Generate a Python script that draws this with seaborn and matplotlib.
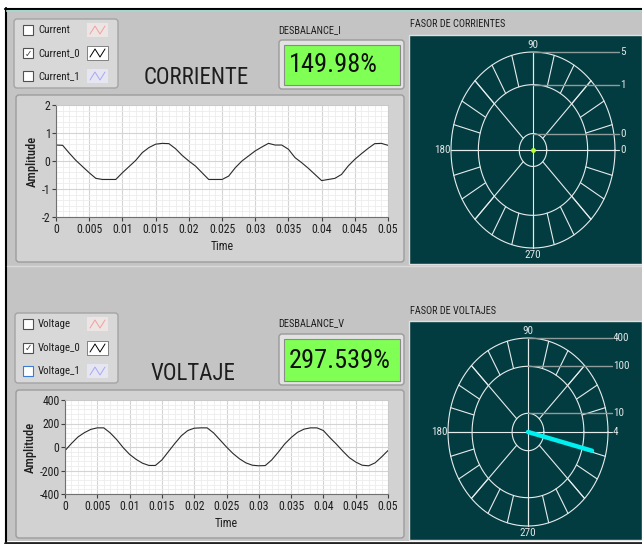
import numpy as np
import matplotlib
matplotlib.use("Agg")
import matplotlib.pyplot as plt
from matplotlib.patches import Rectangle, FancyBboxPatch
from matplotlib.ticker import MultipleLocator
import seaborn as sns

# waveform samples (one per ms)
time_s = [k / 1000 for k in range(51)]
current_0 = [0.57, 0.56, 0.28, 0.02, -0.2, -0.42, -0.62, -0.66, -0.66, -0.66,
             -0.42, -0.2, 0.02, 0.3, 0.48, 0.6, 0.63, 0.62, 0.44, 0.2,
             0.0, -0.18, -0.42, -0.66, -0.66, -0.66, -0.54, -0.24, 0.0, 0.18,
             0.36, 0.5, 0.63, 0.57, 0.57, 0.42, 0.12, -0.06, -0.26, -0.48,
             -0.7, -0.66, -0.62, -0.48, -0.18, 0.06, 0.26, 0.45, 0.62, 0.63, 0.56]
voltage_0 = [-31, 30, 85, 122, 150, 163, 163, 120, 63, -5,
             -63, -105, -138, -157, -157, -110, -40, 30, 95, 140,
             160, 163, 163, 120, 60, 0, -55, -100, -135, -155,
             -160, -158, -110, -45, 25, 80, 125, 152, 163, 163,
             140, 80, 25, -35, -90, -128, -155, -160, -135, -85, -30]

x_ticks = [0, 0.005, 0.01, 0.015, 0.02, 0.025, 0.03, 0.035, 0.04, 0.045, 0.05]
x_tick_labels = ["0", "0.005", "0.01", "0.015", "0.02", "0.025", "0.03",
                 "0.035", "0.04", "0.045", "0.05"]
current_yticks = [-2, -1, 0, 1, 2]
voltage_yticks = [-400, -200, 0, 200, 400]

current_legend = ["Current", "Current_0", "Current_1"]
voltage_legend = ["Voltage", "Voltage_0", "Voltage_1"]
legend_checked = [False, True, False]
legend_colors = ["#F2A0A0", "#000000", "#A8A8F2"]
legend_bg = ["#EDE4E4", "#FFFFFF", "#E6E6F2"]

desbalance_i = "149.98%"
desbalance_v = "297.539%"

# phasor graphs: log radial scale, rings = centre, inner, middle, outer
current_rings = [0.04, 0.09, 1, 5]
current_ring_labels = ["0", "0", "1", "5"]
voltage_rings = [4, 10, 100, 400]
voltage_ring_labels = ["4", "10", "100", "400"]
voltage_phasor = (178, -14)   # magnitude, angle (deg)
current_phasor = (0.04, 0)

W, H = 642, 544
BG = "#C4C4C4"
PANEL = "#D2D2D2"
DARK = "#033C40"
TXT = "#1E1E1E"

sns.set_theme(style="white")
plt.rcParams["font.family"] = ["Roboto Condensed", "Liberation Sans Narrow", "DejaVu Sans"]
plt.rcParams["font.stretch"] = "condensed"

fig = plt.figure(figsize=(W / 100, H / 100), dpi=100)
fig.patch.set_facecolor("white")


def fig_rect(x0, y0, x1, y1):
    return [x0 / W, 1 - y1 / H, (x1 - x0) / W, (y1 - y0) / H]


# background axes in pixel coordinates
bg = fig.add_axes([0, 0, 1, 1], zorder=0)
bg.set_xlim(0, W)
bg.set_ylim(H, 0)
bg.axis("off")

bg.add_patch(Rectangle((6, 9), W - 6, 532, fc=BG, ec="none"))
bg.plot([5, W], [8.5, 8.5], color="black", lw=1.5)
bg.plot([5.5, 5.5], [8, H], color="black", lw=1.5)
bg.plot([7, W], [11, 11], color="#A6D6CE", lw=1.5)
bg.plot([5, W], [542.5, 542.5], color="#222222", lw=2)
bg.plot([7, W], [266, 266], color="#DADADA", lw=1)


def box(x0, y0, x1, y1, fc=PANEL, ec="#9C9C9C", r=3, lw=1):
    bg.add_patch(FancyBboxPatch((x0, y0), x1 - x0, y1 - y0,
                                boxstyle="round,pad=0,rounding_size=%d" % r,
                                fc=fc, ec=ec, lw=lw))


def legend_block(x0, y0, y1, names, row_y, focus_last=False):
    box(x0, y0, 118, y1, fc="#D8D8D8", ec="#A4A4A4")
    for i, (name, yy) in enumerate(zip(names, row_y)):
        ec = "#3A7BD5" if (focus_last and i == 2) else "#505050"
        bg.add_patch(Rectangle((23, yy - 5), 10, 10, fc="white", ec=ec, lw=0.8))
        if legend_checked[i]:
            bg.text(28, yy + 0.5, "\u2713", family=["DejaVu Sans"], fontsize=7,
                    color="#404040", ha="center", va="center")
        bg.text(38, yy, name, fontsize=7.8, color=TXT, va="center")
        bg.add_patch(Rectangle((87, yy - 7), 21, 14, fc=legend_bg[i],
                               ec="#707070" if legend_checked[i] else "none", lw=0.6))
        bg.plot([90, 95, 100, 105], [yy + 4, yy - 4, yy + 4, yy - 4],
                color=legend_colors[i], lw=0.7)


def display(x0, y0, x1, y1, text):
    box(x0, y0, x1, y1, fc="#E2E2E2", ec="#9A9A9A")
    bg.add_patch(Rectangle((x0 + 5, y0 + 5), x1 - x0 - 9, y1 - y0 - 9,
                           fc="#80FF55", ec="#8A8A8A", lw=0.8))
    bg.text(x0 + 10, (y0 + y1) / 2 + 1, text, fontsize=19, color="#101010",
            va="center")


# --- CORRIENTE section
legend_block(14, 19, 88, current_legend, [30, 53, 76])
bg.text(196, 77, "CORRIENTE", fontsize=16.5, color=TXT, ha="center", va="center")
bg.text(278, 30, "DESBALANCE_I", fontsize=7.5, color=TXT, va="center")
display(279, 40, 404, 89, desbalance_i)
box(16, 95, 404, 262)
bg.text(410, 24, "FASOR DE CORRIENTES", fontsize=7.4, color=TXT, va="center")
bg.add_patch(Rectangle((409, 35), W - 409, 229, fc=DARK, ec="#E0E0E0", lw=1))

# --- VOLTAJE section
legend_block(15, 313, 383, voltage_legend, [324, 348, 371], focus_last=True)
bg.text(193, 373, "VOLTAJE", fontsize=16.5, color=TXT, ha="center", va="center")
bg.text(278, 323, "DESBALANCE_V", fontsize=7.5, color=TXT, va="center")
display(279, 334, 404, 385, desbalance_v)
box(16, 390, 404, 538)
bg.text(410, 311, "FASOR DE VOLTAJES", fontsize=7.4, color=TXT, va="center")
bg.add_patch(Rectangle((409, 321), W - 409, 219, fc=DARK, ec="#E0E0E0", lw=1))


def waveform(rect, values, yticks, minor_y):
    ax = fig.add_axes(rect, zorder=2)
    sns.lineplot(x=time_s, y=values, ax=ax, color="#2A2A2A", lw=0.8)
    ax.set_facecolor("white")
    ax.set_xlim(0, 0.05)
    ax.set_ylim(yticks[0], yticks[-1])
    ax.set_xticks(x_ticks)
    ax.set_xticklabels(x_tick_labels)
    ax.set_yticks(yticks)
    ax.set_yticklabels([str(v) for v in yticks])
    ax.xaxis.set_minor_locator(MultipleLocator(0.001))
    ax.yaxis.set_minor_locator(MultipleLocator(minor_y))
    ax.grid(which="major", color="#D4D4D4", lw=0.8)
    ax.grid(which="minor", color="#EDEDED", lw=0.6)
    ax.set_axisbelow(True)
    ax.tick_params(which="major", length=3, width=0.8, color="#404040",
                   labelsize=8.5, labelcolor=TXT, pad=1,
                   bottom=True, left=True)
    ax.tick_params(which="minor", length=0)
    for side in ["top", "right"]:
        ax.spines[side].set_color("#C8C8C8")
        ax.spines[side].set_linewidth(0.6)
    for side in ["left", "bottom"]:
        ax.spines[side].set_color("#707070")
        ax.spines[side].set_linewidth(0.8)
    ax.set_xlabel("Time", fontsize=8.5, color=TXT, labelpad=3)
    ax.set_ylabel("Amplitude", fontsize=9, color=TXT, labelpad=2,
                  fontweight="medium")
    return ax


waveform(fig_rect(56, 105, 388, 217), current_0, current_yticks, 0.2)
waveform(fig_rect(65, 400, 388, 494), voltage_0, voltage_yticks, 40)


def radial(v, rings):
    lo, hi = np.log10(rings[0]), np.log10(rings[-1])
    return (np.log10(v) - lo) / (hi - lo)


def phasor(rect, xlim, ylim, rings, ring_labels, vec, vec_color, dot):
    ax = fig.add_axes(rect, zorder=2)
    ax.set_xlim(*xlim)
    ax.set_ylim(*ylim)
    ax.axis("off")
    line = "#E6ECEC"
    lab_c = "#E0E6E6"
    lw = 0.8
    th = np.linspace(0, 2 * np.pi, 240)
    r_in = radial(rings[1], rings)
    r_mid = radial(rings[2], rings)
    for r in [r_in, r_mid, 1.0]:
        ax.plot(r * np.cos(th), r * np.sin(th), color=line, lw=lw)
    ax.plot([-1, 1.05], [0, 0], color=line, lw=lw)
    ax.plot([0, 0], [-1, 1], color=line, lw=lw)
    for a in range(45, 360, 90):
        t = np.radians(a)
        ax.plot([r_in * np.cos(t), np.cos(t)], [r_in * np.sin(t), np.sin(t)],
                color=line, lw=lw)
    for a in range(0, 360, 15):
        t = np.radians(a)
        ax.plot([r_mid * np.cos(t), np.cos(t)], [r_mid * np.sin(t), np.sin(t)],
                color=line, lw=lw)
    # scale labels on the right
    for r, lab in zip([0, r_in, r_mid, 1.0], ring_labels):
        if r > 0:
            ax.plot([0, 1.05], [r, r], color="#8E9C9C", lw=1)
        ax.text(1.06, r, lab, fontsize=8, color=lab_c, va="center", ha="left")
    ax.text(0, 1.02, "90", fontsize=8, color=lab_c, ha="center", va="bottom")
    ax.text(0, -1.02, "270", fontsize=8, color=lab_c, ha="center", va="top")
    ax.text(-1.01, 0, "180", fontsize=8, color=lab_c, ha="right", va="center")
    mag, ang = vec
    r = radial(mag, rings)
    t = np.radians(ang)
    if r > 0.02:
        ax.plot([0, r * np.cos(t)], [0, r * np.sin(t)], color=vec_color, lw=3.2,
                solid_capstyle="round")
    else:
        ax.plot([0], [0], "o", color=dot, ms=3.5, mec="none")
    return ax


phasor(fig_rect(409, 35, W, 264), (-124 / 82, 109 / 82), (-114 / 98, 115 / 98),
       current_rings, current_ring_labels, current_phasor, "#00F0F0", "#B4FF30")
phasor(fig_rect(409, 321, W, 540), (-119 / 80, 114 / 80), (-108 / 94, 111 / 94),
       voltage_rings, voltage_ring_labels, voltage_phasor, "#00F0F0", "#B4FF30")

fig.savefig("out.png", dpi=100)
